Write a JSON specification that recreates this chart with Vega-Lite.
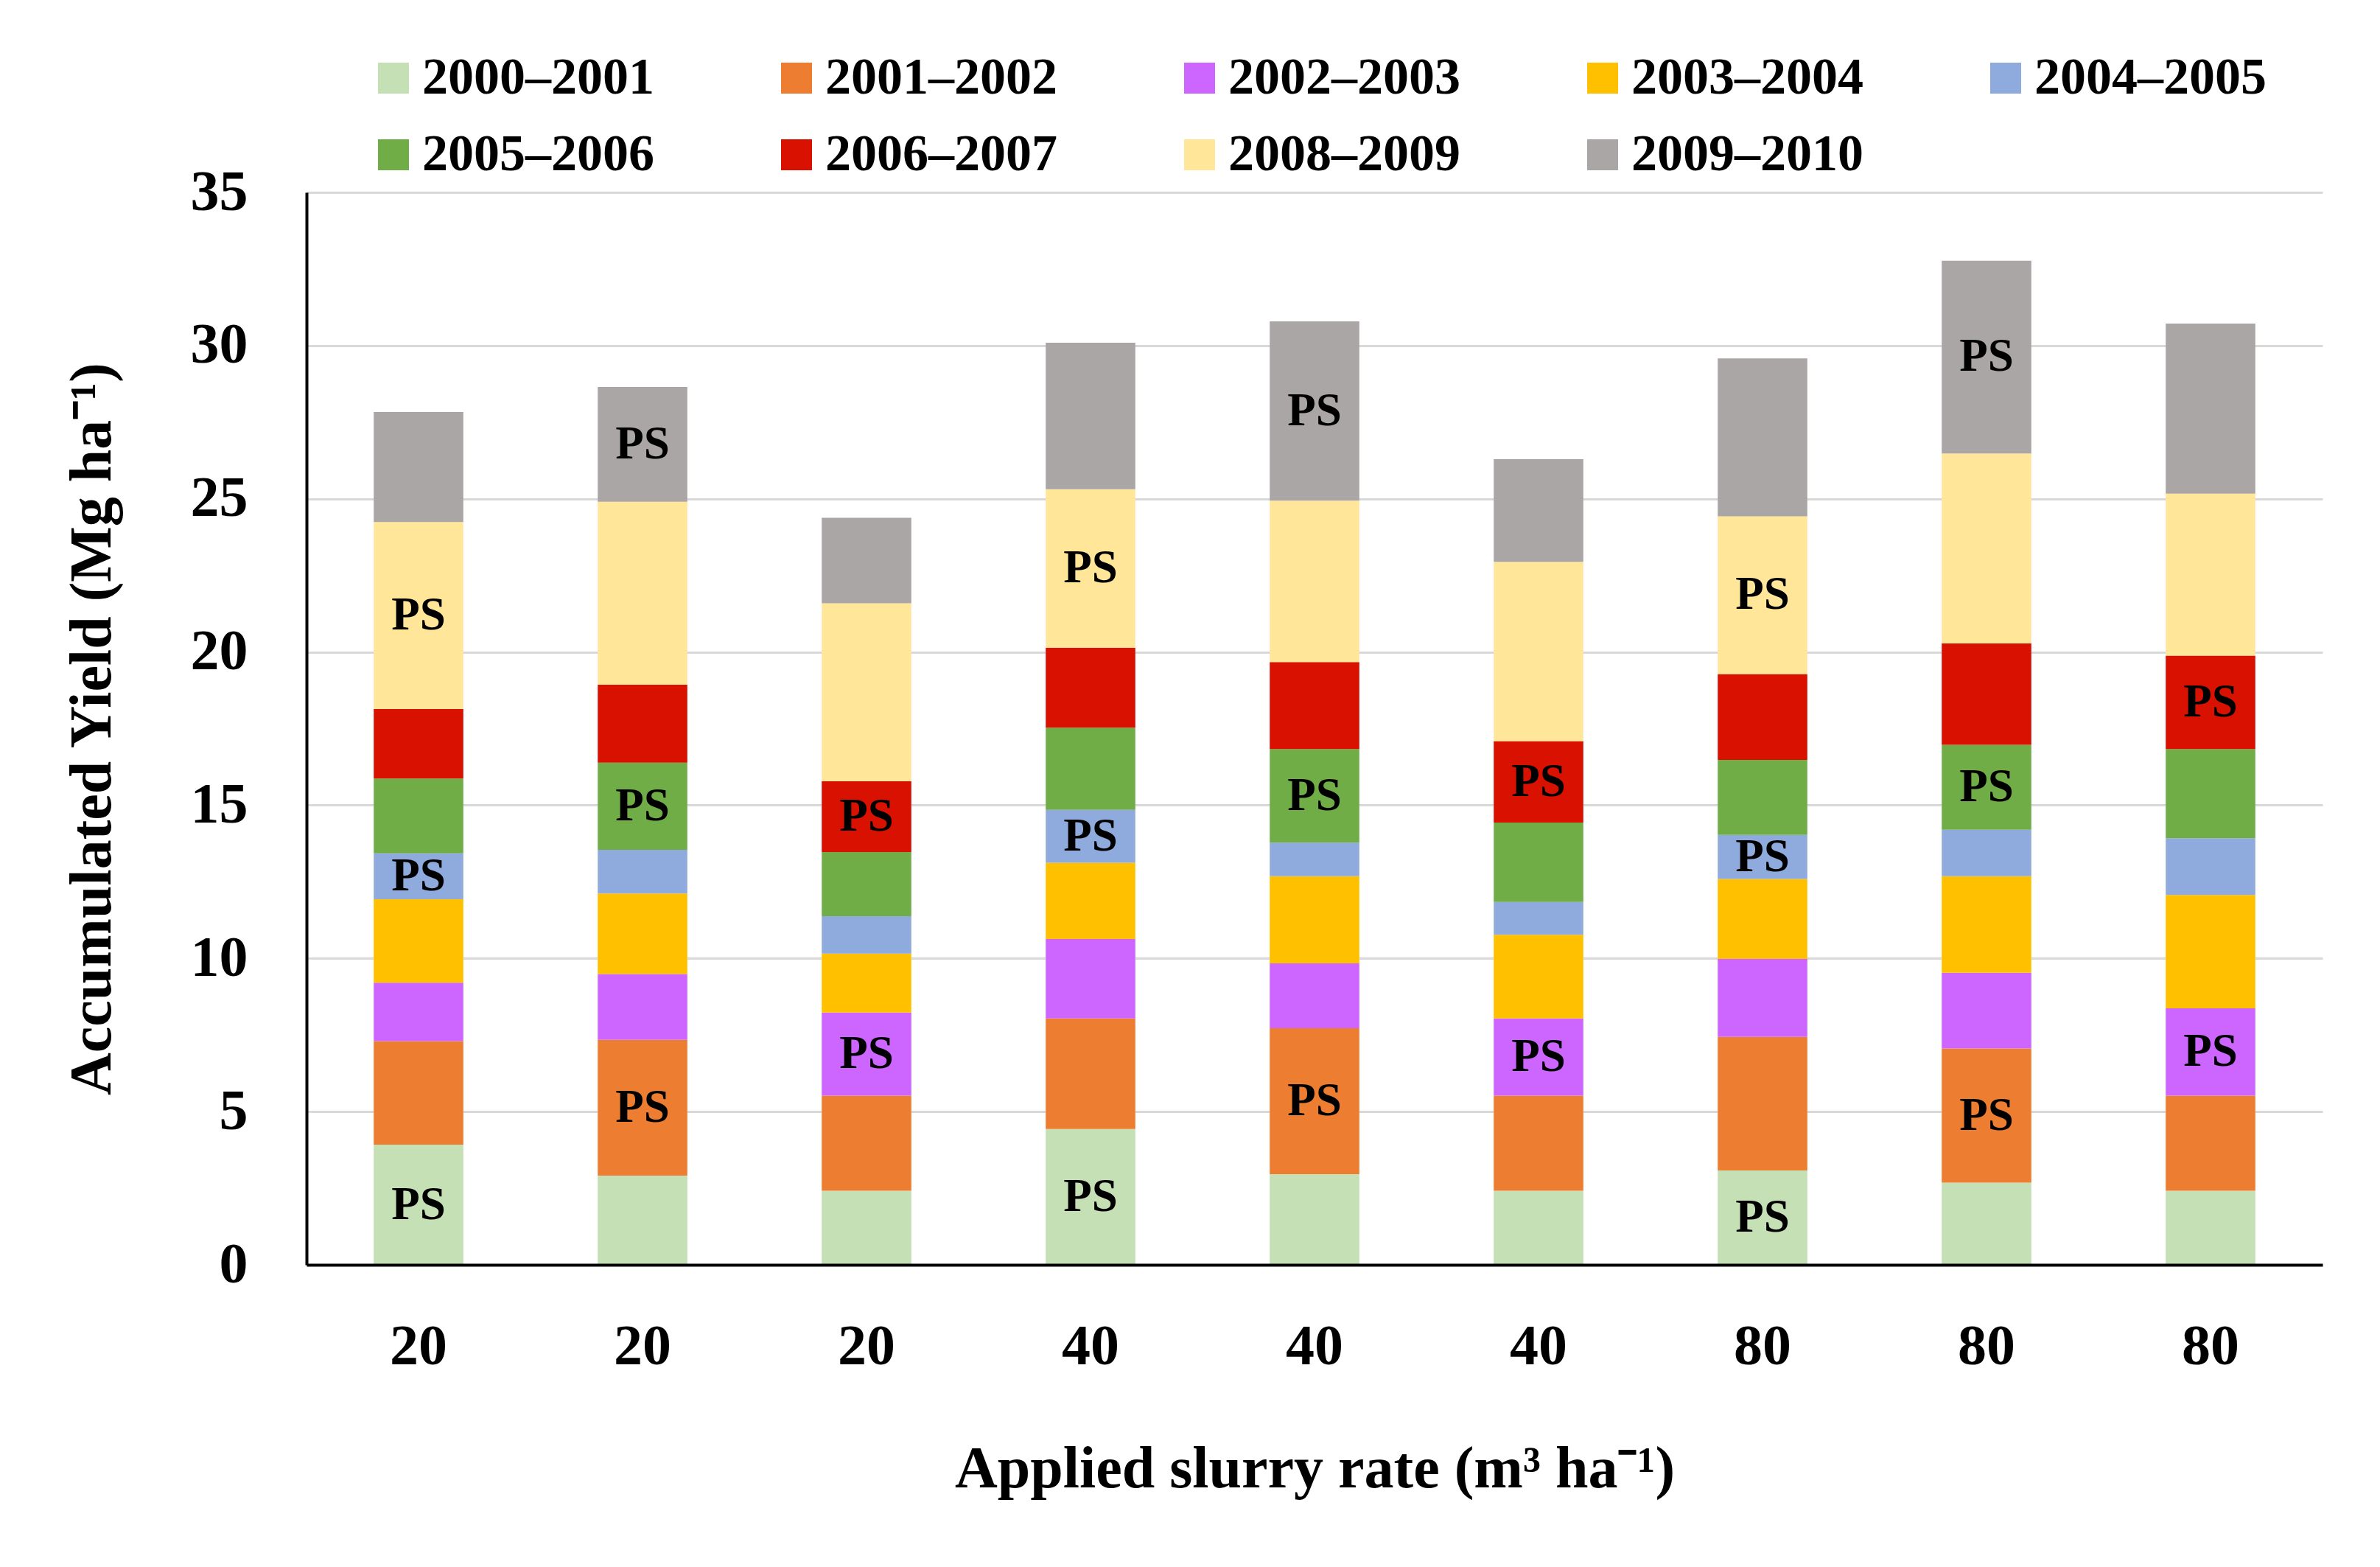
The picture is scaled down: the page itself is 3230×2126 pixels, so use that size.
{
  "$schema": "https://vega.github.io/schema/vega-lite/v6.json",
  "width": 2736,
  "height": 1455,
  "autosize": {"type": "none"},
  "padding": {"left": 416, "top": 261, "right": 78, "bottom": 410},
  "background": "white",
  "config": {"view": {"stroke": null}, "font": "Liberation Serif"},
  "data": {"values": [
    {"bar": "20-1", "season": "2000–2001", "k": 1, "yield": 3.92, "label": "PS"},
    {"bar": "20-1", "season": "2001–2002", "k": 2, "yield": 3.38, "label": ""},
    {"bar": "20-1", "season": "2002–2003", "k": 3, "yield": 1.91, "label": ""},
    {"bar": "20-1", "season": "2003–2004", "k": 4, "yield": 2.72, "label": ""},
    {"bar": "20-1", "season": "2004–2005", "k": 5, "yield": 1.50, "label": "PS"},
    {"bar": "20-1", "season": "2005–2006", "k": 6, "yield": 2.44, "label": ""},
    {"bar": "20-1", "season": "2006–2007", "k": 7, "yield": 2.27, "label": ""},
    {"bar": "20-1", "season": "2008–2009", "k": 8, "yield": 6.10, "label": "PS"},
    {"bar": "20-1", "season": "2009–2010", "k": 9, "yield": 3.59, "label": ""},
    {"bar": "20-2", "season": "2000–2001", "k": 1, "yield": 2.91, "label": ""},
    {"bar": "20-2", "season": "2001–2002", "k": 2, "yield": 4.43, "label": "PS"},
    {"bar": "20-2", "season": "2002–2003", "k": 3, "yield": 2.15, "label": ""},
    {"bar": "20-2", "season": "2003–2004", "k": 4, "yield": 2.63, "label": ""},
    {"bar": "20-2", "season": "2004–2005", "k": 5, "yield": 1.42, "label": ""},
    {"bar": "20-2", "season": "2005–2006", "k": 6, "yield": 2.85, "label": "PS"},
    {"bar": "20-2", "season": "2006–2007", "k": 7, "yield": 2.54, "label": ""},
    {"bar": "20-2", "season": "2008–2009", "k": 8, "yield": 5.97, "label": ""},
    {"bar": "20-2", "season": "2009–2010", "k": 9, "yield": 3.75, "label": "PS"},
    {"bar": "20-3", "season": "2000–2001", "k": 1, "yield": 2.42, "label": ""},
    {"bar": "20-3", "season": "2001–2002", "k": 2, "yield": 3.10, "label": ""},
    {"bar": "20-3", "season": "2002–2003", "k": 3, "yield": 2.71, "label": "PS"},
    {"bar": "20-3", "season": "2003–2004", "k": 4, "yield": 1.93, "label": ""},
    {"bar": "20-3", "season": "2004–2005", "k": 5, "yield": 1.22, "label": ""},
    {"bar": "20-3", "season": "2005–2006", "k": 6, "yield": 2.09, "label": ""},
    {"bar": "20-3", "season": "2006–2007", "k": 7, "yield": 2.31, "label": "PS"},
    {"bar": "20-3", "season": "2008–2009", "k": 8, "yield": 5.81, "label": ""},
    {"bar": "20-3", "season": "2009–2010", "k": 9, "yield": 2.79, "label": ""},
    {"bar": "40-1", "season": "2000–2001", "k": 1, "yield": 4.43, "label": "PS"},
    {"bar": "40-1", "season": "2001–2002", "k": 2, "yield": 3.61, "label": ""},
    {"bar": "40-1", "season": "2002–2003", "k": 3, "yield": 2.59, "label": ""},
    {"bar": "40-1", "season": "2003–2004", "k": 4, "yield": 2.49, "label": ""},
    {"bar": "40-1", "season": "2004–2005", "k": 5, "yield": 1.73, "label": "PS"},
    {"bar": "40-1", "season": "2005–2006", "k": 6, "yield": 2.68, "label": ""},
    {"bar": "40-1", "season": "2006–2007", "k": 7, "yield": 2.61, "label": ""},
    {"bar": "40-1", "season": "2008–2009", "k": 8, "yield": 5.17, "label": "PS"},
    {"bar": "40-1", "season": "2009–2010", "k": 9, "yield": 4.78, "label": ""},
    {"bar": "40-2", "season": "2000–2001", "k": 1, "yield": 2.96, "label": ""},
    {"bar": "40-2", "season": "2001–2002", "k": 2, "yield": 4.76, "label": "PS"},
    {"bar": "40-2", "season": "2002–2003", "k": 3, "yield": 2.12, "label": ""},
    {"bar": "40-2", "season": "2003–2004", "k": 4, "yield": 2.84, "label": ""},
    {"bar": "40-2", "season": "2004–2005", "k": 5, "yield": 1.10, "label": ""},
    {"bar": "40-2", "season": "2005–2006", "k": 6, "yield": 3.05, "label": "PS"},
    {"bar": "40-2", "season": "2006–2007", "k": 7, "yield": 2.84, "label": ""},
    {"bar": "40-2", "season": "2008–2009", "k": 8, "yield": 5.27, "label": ""},
    {"bar": "40-2", "season": "2009–2010", "k": 9, "yield": 5.85, "label": "PS"},
    {"bar": "40-3", "season": "2000–2001", "k": 1, "yield": 2.42, "label": ""},
    {"bar": "40-3", "season": "2001–2002", "k": 2, "yield": 3.10, "label": ""},
    {"bar": "40-3", "season": "2002–2003", "k": 3, "yield": 2.52, "label": "PS"},
    {"bar": "40-3", "season": "2003–2004", "k": 4, "yield": 2.73, "label": ""},
    {"bar": "40-3", "season": "2004–2005", "k": 5, "yield": 1.07, "label": ""},
    {"bar": "40-3", "season": "2005–2006", "k": 6, "yield": 2.59, "label": ""},
    {"bar": "40-3", "season": "2006–2007", "k": 7, "yield": 2.66, "label": "PS"},
    {"bar": "40-3", "season": "2008–2009", "k": 8, "yield": 5.85, "label": ""},
    {"bar": "40-3", "season": "2009–2010", "k": 9, "yield": 3.35, "label": ""},
    {"bar": "80-1", "season": "2000–2001", "k": 1, "yield": 3.08, "label": "PS"},
    {"bar": "80-1", "season": "2001–2002", "k": 2, "yield": 4.36, "label": ""},
    {"bar": "80-1", "season": "2002–2003", "k": 3, "yield": 2.54, "label": ""},
    {"bar": "80-1", "season": "2003–2004", "k": 4, "yield": 2.61, "label": ""},
    {"bar": "80-1", "season": "2004–2005", "k": 5, "yield": 1.44, "label": "PS"},
    {"bar": "80-1", "season": "2005–2006", "k": 6, "yield": 2.45, "label": ""},
    {"bar": "80-1", "season": "2006–2007", "k": 7, "yield": 2.80, "label": ""},
    {"bar": "80-1", "season": "2008–2009", "k": 8, "yield": 5.15, "label": "PS"},
    {"bar": "80-1", "season": "2009–2010", "k": 9, "yield": 5.15, "label": ""},
    {"bar": "80-2", "season": "2000–2001", "k": 1, "yield": 2.68, "label": ""},
    {"bar": "80-2", "season": "2001–2002", "k": 2, "yield": 4.38, "label": "PS"},
    {"bar": "80-2", "season": "2002–2003", "k": 3, "yield": 2.47, "label": ""},
    {"bar": "80-2", "season": "2003–2004", "k": 4, "yield": 3.15, "label": ""},
    {"bar": "80-2", "season": "2004–2005", "k": 5, "yield": 1.52, "label": ""},
    {"bar": "80-2", "season": "2005–2006", "k": 6, "yield": 2.77, "label": "PS"},
    {"bar": "80-2", "season": "2006–2007", "k": 7, "yield": 3.31, "label": ""},
    {"bar": "80-2", "season": "2008–2009", "k": 8, "yield": 6.20, "label": ""},
    {"bar": "80-2", "season": "2009–2010", "k": 9, "yield": 6.29, "label": "PS"},
    {"bar": "80-3", "season": "2000–2001", "k": 1, "yield": 2.42, "label": ""},
    {"bar": "80-3", "season": "2001–2002", "k": 2, "yield": 3.10, "label": ""},
    {"bar": "80-3", "season": "2002–2003", "k": 3, "yield": 2.85, "label": "PS"},
    {"bar": "80-3", "season": "2003–2004", "k": 4, "yield": 3.70, "label": ""},
    {"bar": "80-3", "season": "2004–2005", "k": 5, "yield": 1.85, "label": ""},
    {"bar": "80-3", "season": "2005–2006", "k": 6, "yield": 2.91, "label": ""},
    {"bar": "80-3", "season": "2006–2007", "k": 7, "yield": 3.05, "label": "PS"},
    {"bar": "80-3", "season": "2008–2009", "k": 8, "yield": 5.29, "label": ""},
    {"bar": "80-3", "season": "2009–2010", "k": 9, "yield": 5.55, "label": ""}
  ]},
  "transform": [
    {"stack": "yield", "groupby": ["bar"], "sort": [{"field": "k", "order": "ascending"}], "as": ["y0", "y1"]}
  ],
  "encoding": {
    "x": {
      "field": "bar", "type": "nominal", "sort": null,
      "scale": {"paddingInner": 0.6, "paddingOuter": 0.3},
      "axis": {
        "title": "Applied slurry rate (m³ ha⁻¹)",
        "labelExpr": "split(datum.value, '-')[0]",
        "labelAngle": 0, "ticks": false, "grid": false,
        "domainColor": "black", "domainWidth": 4, "zindex": 1,
        "labelFont": "Liberation Serif", "labelFontSize": 78, "labelFontWeight": "bold", "labelColor": "black", "labelPadding": 72,
        "titleFont": "Liberation Serif", "titleFontSize": 80, "titleFontWeight": "bold", "titleColor": "black", "titlePadding": 88
      }
    }
  },
  "layer": [
    {
      "mark": {"type": "bar"},
      "encoding": {
        "y": {
          "field": "y0", "type": "quantitative",
          "scale": {"domain": [0, 35], "nice": false},
          "axis": {
            "title": "Accumulated Yield (Mg ha⁻¹)",
            "values": [0, 5, 10, 15, 20, 25, 30, 35],
            "grid": true, "gridColor": "#d9d9d9", "gridWidth": 3,
            "domainColor": "black", "domainWidth": 4, "ticks": false,
            "labelFont": "Liberation Serif", "labelFontSize": 78, "labelFontWeight": "bold", "labelColor": "black", "labelPadding": 80,
            "titleFont": "Liberation Serif", "titleFontSize": 80, "titleFontWeight": "bold", "titleColor": "black", "titlePadding": 92
          }
        },
        "y2": {"field": "y1"},
        "color": {
          "field": "season", "type": "nominal",
          "scale": {
            "domain": ["2000–2001", "2001–2002", "2002–2003", "2003–2004", "2004–2005", "2005–2006", "2006–2007", "2008–2009", "2009–2010"],
            "range": ["#c5e0b4", "#ed7d31", "#cc66ff", "#ffc000", "#8faadc", "#70ad47", "#d81100", "#ffe699", "#aaa6a5"]
          },
          "legend": {
            "title": null, "orient": "none", "legendX": 83, "legendY": -190,
            "direction": "horizontal", "columns": 5,
            "symbolType": "square", "symbolSize": 1764, "symbolStrokeWidth": 0, "symbolOpacity": 1,
            "labelFont": "Liberation Serif", "labelFontSize": 70, "labelFontWeight": "bold", "labelColor": "black",
            "labelOffset": 4, "labelLimit": 0, "columnPadding": 158, "rowPadding": 34
          }
        }
      }
    },
    {
      "transform": [
        {"filter": "datum.label == 'PS'"},
        {"fold": ["y0", "y1"], "as": ["edge", "pos"]}
      ],
      "mark": {"type": "text", "font": "Liberation Serif", "fontSize": 63, "fontWeight": "bold", "baseline": "middle", "align": "center", "color": "black"},
      "encoding": {
        "y": {"aggregate": "mean", "field": "pos", "type": "quantitative", "stack": null},
        "text": {"field": "label", "type": "nominal"},
        "detail": {"field": "season", "type": "nominal"}
      }
    }
  ]
}
